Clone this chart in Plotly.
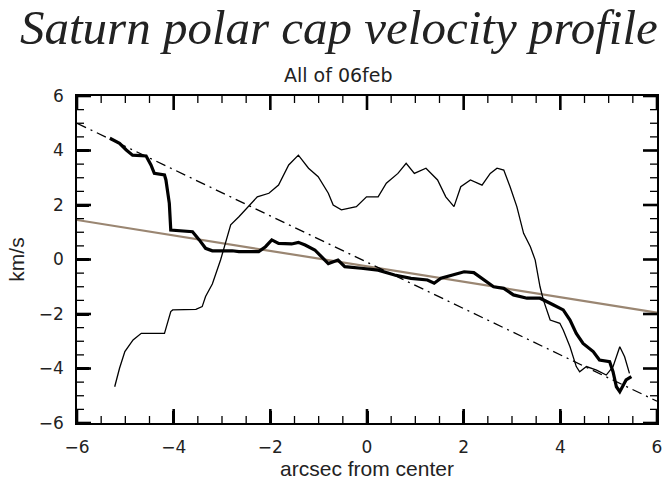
import plotly.graph_objects as go

# Thick black profile
thick_x = [-5.32, -5.12, -4.98, -4.85, -4.57, -4.47, -4.40, -4.19, -4.16, -4.09, -4.06, -3.61, -3.47, -3.34,
           -3.20, -2.79, -2.65, -2.24, -2.10, -1.97, -1.83, -1.56, -1.42, -1.28, -1.08, -0.80, -0.60, -0.46,
           -0.12, 0.23, 0.57, 0.91, 1.25, 1.39, 1.53, 1.80, 2.01, 2.21, 2.42, 2.62, 2.83, 3.03, 3.31, 3.58,
           3.86, 4.06, 4.20, 4.33, 4.47, 4.68, 4.81, 5.02, 5.09, 5.16, 5.23, 5.36, 5.47]
thick_y = [4.45, 4.26, 4.02, 3.83, 3.80, 3.47, 3.16, 3.10, 2.92, 2.06, 1.08, 1.02, 0.72, 0.41,
           0.32, 0.32, 0.29, 0.29, 0.47, 0.72, 0.59, 0.57, 0.63, 0.53, 0.35, -0.15, -0.02, -0.26,
           -0.32, -0.39, -0.57, -0.69, -0.75, -0.87, -0.69, -0.57, -0.45, -0.48, -0.75, -1.00, -1.06, -1.30, -1.42, -1.42,
           -1.67, -1.85, -2.22, -2.71, -3.08, -3.38, -3.69, -3.75, -4.12, -4.67, -4.85, -4.42, -4.30]

# Thin black profile
thin_x = [-5.22, -5.12, -5.01, -4.84, -4.67, -4.19, -4.06, -4.02, -3.54, -3.41, -3.34, -3.20, -3.03, -2.82,
          -2.65, -2.48, -2.27, -2.03, -1.83, -1.62, -1.42, -1.21, -1.01, -0.80, -0.70, -0.53, -0.22, -0.01,
          0.23, 0.40, 0.64, 0.81, 0.98, 1.22, 1.46, 1.63, 1.80, 1.94, 2.14, 2.38, 2.55, 2.69, 2.83, 2.96,
          3.10, 3.24, 3.38, 3.48, 3.58, 3.65, 3.79, 3.99, 4.06, 4.20, 4.33, 4.40, 4.54, 4.75, 4.95, 5.09,
          5.23, 5.33, 5.43]
thin_y = [-4.67, -3.99, -3.38, -2.95, -2.71, -2.71, -1.91, -1.85, -1.83, -1.73, -1.36, -0.90, -0.02, 1.27,
          1.57, 1.88, 2.30, 2.43, 2.73, 3.47, 3.83, 3.35, 3.04, 2.43, 2.00, 1.82, 1.94, 2.30,
          2.30, 2.80, 3.16, 3.53, 3.16, 3.35, 2.92, 2.30, 1.94, 2.67, 2.92, 2.73, 3.16, 3.35, 3.28, 2.67,
          1.94, 0.96, 0.47, -0.02, -1.00, -1.49, -2.22, -2.34, -2.59, -3.20, -3.93, -4.12, -3.93, -4.06, -4.24, -3.93,
          -3.20, -3.57, -4.18]

# Straight fits
dashdot_x = [-6.0, 6.0]
dashdot_y = [5.0, -5.2]
tan_x = [-6.0, 6.0]
tan_y = [1.45, -1.95]

# Axis ticks
axis_range = [-6, 6]
major_ticks = [-6, -4, -2, 0, 2, 4, 6]
minor_step = 0.5

fig = go.Figure()
fig.add_trace(go.Scatter(x=tan_x, y=tan_y, mode="lines",
                         line=dict(color="#9a8672", width=2.2), showlegend=False))
fig.add_trace(go.Scatter(x=dashdot_x, y=dashdot_y, mode="lines",
                         line=dict(color="black", width=1.3, dash="10px,5px,2px,5px"), showlegend=False))
fig.add_trace(go.Scatter(x=thin_x, y=thin_y, mode="lines",
                         line=dict(color="black", width=1.3), showlegend=False))
fig.add_trace(go.Scatter(x=thick_x, y=thick_y, mode="lines",
                         line=dict(color="black", width=3.2), showlegend=False))

axis_common = dict(range=axis_range, showgrid=False, zeroline=False, showline=True, linecolor="black",
                   linewidth=1.5, mirror=True, ticks="inside", ticklen=12, tickwidth=2.5,
                   tickcolor="black", tickmode="array", tickvals=major_ticks,
                   ticktext=[("\u2212" + str(-v)) if v < 0 else str(v) for v in major_ticks],
                   tickfont=dict(family="DejaVu Sans", size=17, color="#222"), ticklabelstandoff=8)

# Tick marks on all four sides (inside), built from the tick arrays
n_minor = int(round((axis_range[1] - axis_range[0]) / minor_step))
minor_ticks = [axis_range[0] + i * minor_step for i in range(n_minor + 1)]
shapes = []
for vals, ln, wd in [(minor_ticks, 7, 1.3), (major_ticks, 14, 2.6)]:
    for v in vals:
        line = dict(color="black", width=wd)
        # bottom / top
        shapes.append(dict(type="line", xref="x", yref="y domain", ysizemode="pixel", yanchor=0,
                           x0=v, x1=v, y0=0, y1=ln, line=line))
        shapes.append(dict(type="line", xref="x", yref="y domain", ysizemode="pixel", yanchor=1,
                           x0=v, x1=v, y0=0, y1=-ln, line=line))
        # left / right
        shapes.append(dict(type="line", xref="x domain", yref="y", xsizemode="pixel", xanchor=0,
                           x0=0, x1=ln, y0=v, y1=v, line=line))
        shapes.append(dict(type="line", xref="x domain", yref="y", xsizemode="pixel", xanchor=1,
                           x0=0, x1=-ln, y0=v, y1=v, line=line))

fig.update_layout(
    width=668, height=484,
    margin=dict(l=77, r=6, t=96, b=61),
    paper_bgcolor="white", plot_bgcolor="white",
    xaxis=dict(title=dict(text="arcsec from center", font=dict(family="Liberation Sans", size=21, color="#222"),
                          standoff=2), **axis_common),
    yaxis=dict(title=dict(text="km/s", font=dict(family="Liberation Sans", size=21, color="#222"),
                          standoff=8), **axis_common),
    shapes=shapes,
    annotations=[
        dict(text="<i>Saturn polar cap velocity profile</i>", x=0.451, y=1.0, xref="paper", yref="paper",
             xanchor="center", yanchor="top", yshift=98, showarrow=False,
             font=dict(family="Liberation Serif", size=49, color="#222")),
        dict(text="All of 06feb", x=0.451, y=1.0, xref="paper", yref="paper",
             xanchor="center", yanchor="bottom", yshift=8, showarrow=False,
             font=dict(family="DejaVu Sans", size=19, color="#222")),
    ],
)

fig.write_html("out.html")
